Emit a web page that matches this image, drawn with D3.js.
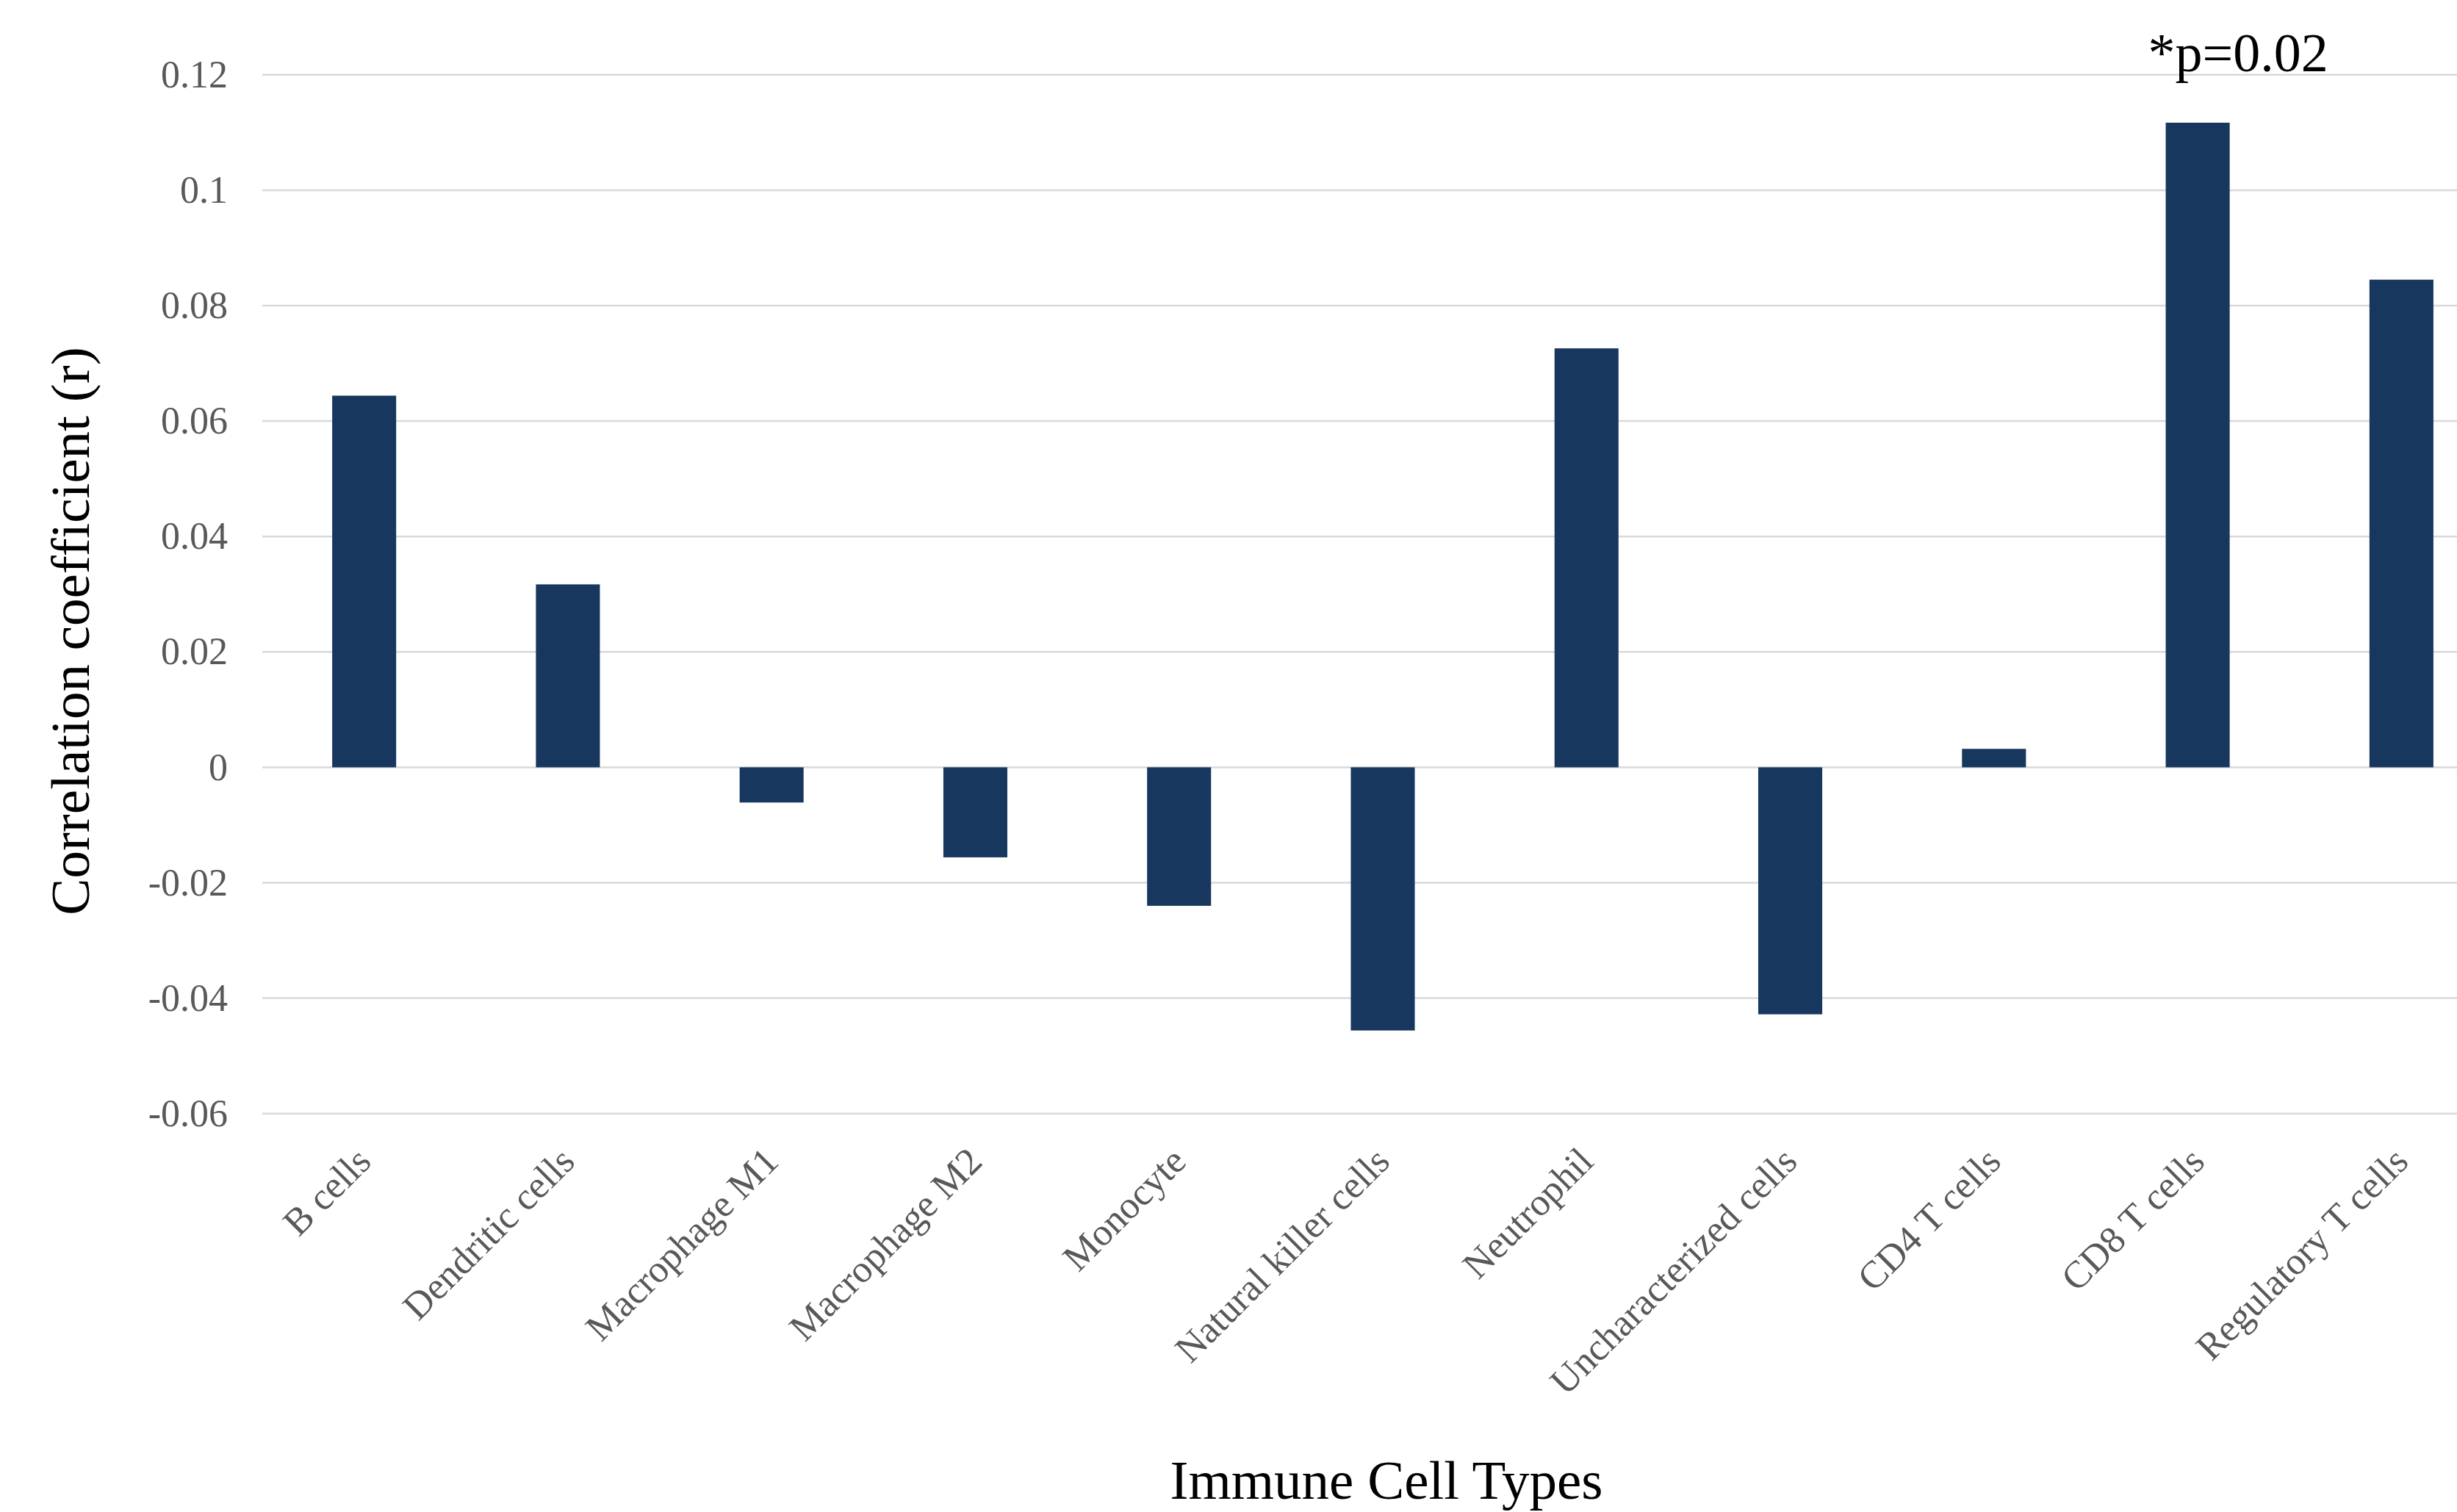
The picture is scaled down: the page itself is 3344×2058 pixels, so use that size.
<!DOCTYPE html>
<html>
<head>
<meta charset="utf-8">
<script src="https://cdn.jsdelivr.net/npm/d3@7"></script>
<style>
  body { margin: 0; background: #fff; }
  text { font-family: "Liberation Serif", "Times New Roman", serif; }
</style>
</head>
<body>
<div id="bar-chart"></div>
<script>
// Bar chart - correlation of immune cell types

const cellTypes = ["B cells", "Dendritic cells", "Macrophage M1", "Macrophage M2", "Monocyte",
    "Natural killer cells", "Neutrophil", "Uncharacterized cells", "CD4 T cells", "CD8 T cells",
    "Regulatory T cells"];
const correlations = [0.0644, 0.0317, -0.0061, -0.0156, -0.0240, -0.0456, 0.0726, -0.0428, 0.0032, 0.1117, 0.0845];
const yTicks = [-0.06, -0.04, -0.02, 0, 0.02, 0.04, 0.06, 0.08, 0.1, 0.12];
const annotation = {cell: "CD8 T cells", text: "*p=0.02"};

const width = 3344;
const height = 2058;
const plot = {left: 357, right: 3407, top: 101.8, bottom: 1515.7};

const svg = d3.select("#bar-chart")
    .append("svg")
    .attr("width", width)
    .attr("height", height)
    .attr("viewBox", `0 0 ${width} ${height}`);

const xScale = d3.scaleBand()
    .domain(cellTypes)
    .range([plot.left, plot.right]);

const yScale = d3.scaleLinear()
    .domain([-0.06, 0.12])
    .range([plot.bottom, plot.top]);

const barWidth = xScale.bandwidth() * 0.314;

// gridlines
svg.append("g")
    .selectAll("line")
    .data(yTicks)
    .join("line")
    .attr("x1", plot.left)
    .attr("x2", width)
    .attr("y1", d => yScale(d))
    .attr("y2", d => yScale(d))
    .attr("stroke", "#d9d9d9")
    .attr("stroke-width", 2.5);

// y axis labels
const yAxis = d3.axisLeft(yScale)
    .tickValues(yTicks)
    .tickSize(0)
    .tickPadding(47)
    .tickFormat(d => d === 0 ? "0" : String(+d.toFixed(2)));

svg.append("g")
    .attr("transform", `translate(${plot.left}, 0)`)
    .call(yAxis)
    .call(g => g.select(".domain").remove())
    .selectAll("text")
    .attr("font-family", "Liberation Serif, serif")
    .attr("font-size", 52)
    .attr("fill", "#595959");

// bars
svg.append("g")
    .selectAll("rect")
    .data(cellTypes)
    .join("rect")
    .attr("x", (d) => xScale(d) + (xScale.bandwidth() - barWidth) / 2)
    .attr("y", (d, i) => yScale(Math.max(0, correlations[i])))
    .attr("width", barWidth)
    .attr("height", (d, i) => Math.abs(yScale(correlations[i]) - yScale(0)))
    .attr("fill", "#17375e");

// x axis labels, rotated
const xAxis = d3.axisBottom(xScale).tickSize(0).tickPadding(0);

svg.append("g")
    .attr("transform", `translate(0, ${plot.bottom})`)
    .call(xAxis)
    .call(g => g.select(".domain").remove())
    .selectAll("text")
    .attr("font-family", "Liberation Serif, serif")
    .attr("font-size", 52)
    .attr("fill", "#595959")
    .attr("text-anchor", "end")
    .attr("dy", null)
    .attr("y", null)
    .attr("transform", "translate(12, 68) rotate(-45)");

// annotation over the significant bar
const annIndex = cellTypes.indexOf(annotation.cell);
svg.append("text")
    .attr("x", xScale(annotation.cell) + xScale.bandwidth() / 2 + 55)
    .attr("y", yScale(correlations[annIndex]) - 70)
    .attr("text-anchor", "middle")
    .attr("font-size", 74)
    .attr("fill", "#000")
    .text(annotation.text);

// axis titles
svg.append("text")
    .attr("x", 1887)
    .attr("y", 2040)
    .attr("text-anchor", "middle")
    .attr("font-size", 75)
    .attr("fill", "#000")
    .text("Immune Cell Types");

svg.append("text")
    .attr("transform", "translate(121, 859) rotate(-90)")
    .attr("text-anchor", "middle")
    .attr("font-size", 75)
    .attr("fill", "#000")
    .text("Correlation coefficient (r)");
</script>
</body>
</html>
